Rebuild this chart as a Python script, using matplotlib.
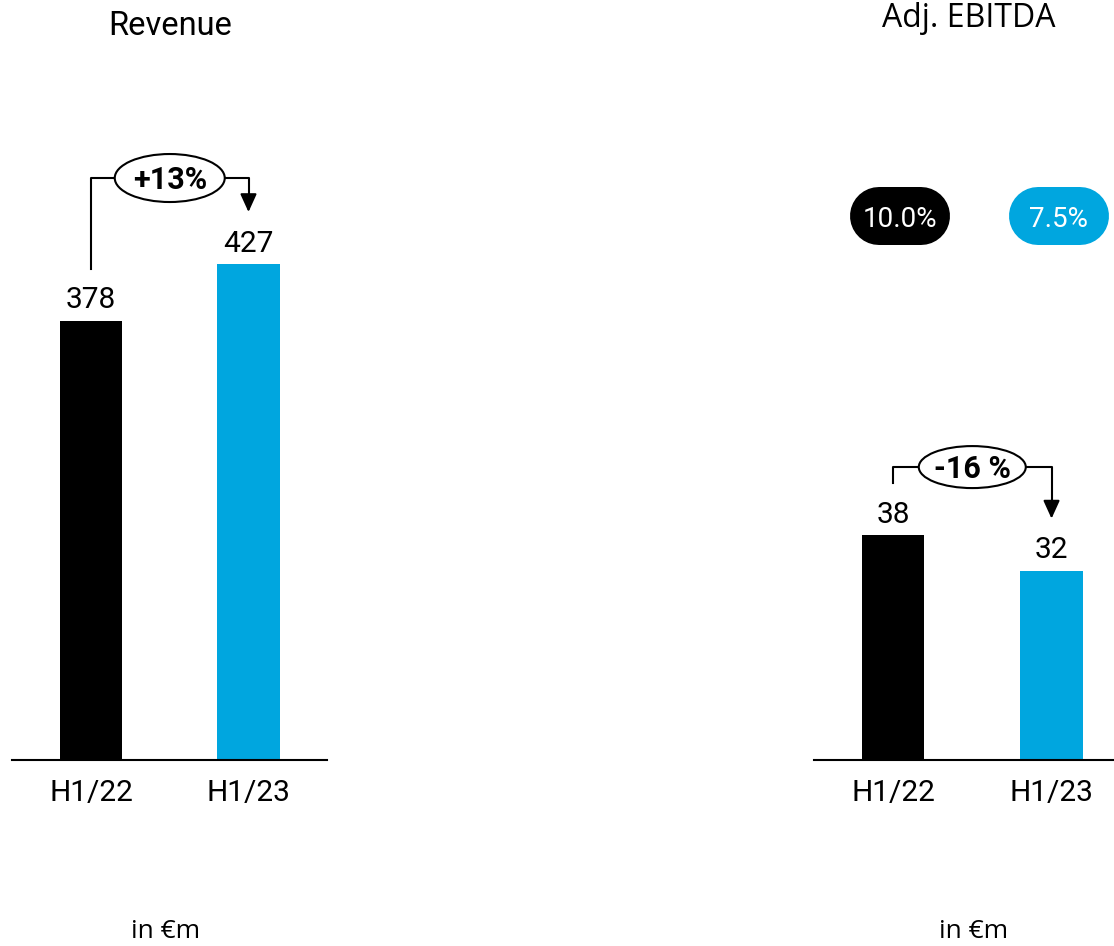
import matplotlib.pyplot as plt
from matplotlib.patches import Ellipse
from matplotlib.lines import Line2D

plt.rcParams["font.family"] = ["Roboto", "DejaVu Sans"]

# DATA

categories = ["H1/22", "H1/23"]
revenue = [378, 427]
ebitda = [38, 32]
ebitda_margin = [10.0, 7.5]
revenue_change = "+13%"
ebitda_change = "-16 %"
bar_colors = ["#000000", "#00A6DF"]

# FIGURE (pixel based layout)

W, H = 1114, 946
fig = plt.figure(figsize=(W / 100, H / 100), dpi=100)

base = 760  # baseline, px from top


def fx(px):
    return px / W


def fy(px):
    return 1 - px / H


ax1 = fig.add_axes([fx(12.25), fy(base), 315 / W, base / H])
ax1.set_xlim(-0.5, 1.5)
ax1.set_ylim(0, 654.3)

ax2 = fig.add_axes([fx(813.75), fy(base), (W - 813.75) / W, base / H])
ax2.set_xlim(-0.5, 1.394)
ax2.set_ylim(0, 128.4)


def px_x(ax):
    return 1 / (ax.transData.transform((1, 0))[0] - ax.transData.transform((0, 0))[0])


def px_y(ax):
    return 1 / (ax.transData.transform((0, 1))[1] - ax.transData.transform((0, 0))[1])


# BARS

for ax, vals in [(ax1, revenue), (ax2, ebitda)]:
    x = range(len(vals))
    ax.bar(x, vals, width=0.394, color=bar_colors)
    for side in ["top", "left", "right"]:
        ax.spines[side].set_visible(False)
    ax.spines["bottom"].set_linewidth(1.5)
    ax.set_yticks([])
    ax.set_xticks(list(x), categories)
    ax.tick_params(axis="x", length=0, pad=14, labelsize=21.5)
    ax.set_facecolor("none")
    for i, v in enumerate(vals):
        ax.annotate(
            str(v), (i, v),
            xytext=(0, 9), textcoords="offset points",
            ha="center", va="baseline", fontsize=21.5
        )


# CHANGE BRACKETS

def bracket(ax, vals, label, top_px, ell_w, ell_h):
    sx = px_x(ax)
    sy = px_y(ax)
    y0 = vals[0] + 52 * sy
    y1 = vals[1] + 52 * sy
    yh = max(vals) + top_px * sy
    ax.plot(
        [0, 0, 1, 1], [y0, yh, yh, y1 + 15 * sy],
        color="black", lw=1.5, clip_on=False, zorder=3
    )
    ax.annotate(
        "", xy=(1, y1), xytext=(1, y1 + 16 * sy),
        arrowprops=dict(
            arrowstyle="-|>,head_length=0.55,head_width=0.25",
            color="black", lw=1.5, shrinkA=0, shrinkB=0,
            mutation_scale=20
        ),
        zorder=3
    )
    ax.add_patch(Ellipse(
        (0.5, yh), ell_w * sx, ell_h * sy,
        facecolor="white", edgecolor="black", lw=1.5,
        zorder=4, clip_on=False
    ))
    ax.text(
        0.5, yh - 10.5 * sy, label,
        ha="center", va="baseline", fontsize=22,
        fontweight="bold", zorder=5
    )


bracket(ax1, revenue, revenue_change, 86, 110, 48)
bracket(ax2, ebitda, ebitda_change, 68, 107, 42)

# MARGIN PILLS (thick line with round caps)

pill_w, pill_h = 100, 58  # px
pill_y = H - 216
for i, m in enumerate(ebitda_margin):
    cx = ax2.transData.transform((i, 0))[0] + 7
    half = (pill_w - pill_h) / 2
    fig.add_artist(Line2D(
        [(cx - half) / W, (cx + half) / W], [pill_y / H, pill_y / H],
        transform=fig.transFigure,
        lw=pill_h * 72 / 100, color=bar_colors[i],
        solid_capstyle="round"
    ))
    fig.text(
        cx / W, (pill_y - 11) / H, f"{m:.1f}%",
        ha="center", va="baseline", fontsize=20,
        color="white", zorder=5
    )

# TITLES / UNITS

fig.text(fx(170), fy(35), "Revenue", ha="center", va="baseline", fontsize=23.5)
fig.text(fx(969), fy(27), "Adj. EBITDA", ha="center", va="baseline",
         fontsize=23, family=["Open Sans", "DejaVu Sans"])
fig.text(fx(166), fy(938), "in €m", ha="center", va="baseline",
         fontsize=19, family=["Open Sans", "DejaVu Sans"])
fig.text(fx(974), fy(938), "in €m", ha="center", va="baseline",
         fontsize=19, family=["Open Sans", "DejaVu Sans"])

fig.savefig("out.png", dpi=100, facecolor="white")
